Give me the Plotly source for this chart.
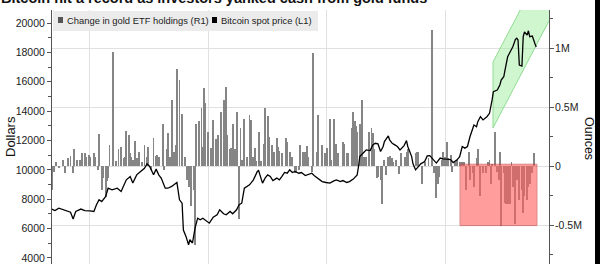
import plotly.graph_objects as go

# ---------------- data ----------------
btc_dates = [
    "2019-12-02", "2019-12-05", "2019-12-08", "2019-12-10", "2019-12-14", "2019-12-17", "2019-12-19",
    "2019-12-21", "2019-12-25", "2019-12-28", "2020-01-01", "2020-01-04", "2020-01-06", "2020-01-08",
    "2020-01-10", "2020-01-13", "2020-01-15", "2020-01-18", "2020-01-22", "2020-01-25", "2020-01-29",
    "2020-02-01", "2020-02-03", "2020-02-06", "2020-02-09", "2020-02-12", "2020-02-14", "2020-02-16",
    "2020-02-19", "2020-02-21", "2020-02-23", "2020-02-25", "2020-02-28", "2020-03-01", "2020-03-04",
    "2020-03-07", "2020-03-08", "2020-03-10", "2020-03-12", "2020-03-13", "2020-03-15", "2020-03-17",
    "2020-03-18", "2020-03-20", "2020-03-22", "2020-03-24", "2020-03-26", "2020-03-28", "2020-03-31",
    "2020-04-02", "2020-04-05", "2020-04-08", "2020-04-10", "2020-04-13", "2020-04-15", "2020-04-18",
    "2020-04-20", "2020-04-23", "2020-04-25", "2020-04-27", "2020-04-29", "2020-05-01", "2020-05-03",
    "2020-05-06", "2020-05-09", "2020-05-10", "2020-05-12", "2020-05-13", "2020-05-15", "2020-05-17",
    "2020-05-19", "2020-05-21", "2020-05-24", "2020-05-26", "2020-05-28", "2020-05-30", "2020-06-01",
    "2020-06-03", "2020-06-05", "2020-06-07", "2020-06-10", "2020-06-12", "2020-06-15", "2020-06-17",
    "2020-06-20", "2020-06-22", "2020-06-25", "2020-06-28", "2020-07-01", "2020-07-04", "2020-07-07",
    "2020-07-09", "2020-07-12", "2020-07-14", "2020-07-17", "2020-07-19", "2020-07-22", "2020-07-25",
    "2020-07-26", "2020-07-27", "2020-07-30", "2020-08-01", "2020-08-04", "2020-08-06", "2020-08-08",
    "2020-08-10", "2020-08-12", "2020-08-14", "2020-08-15", "2020-08-18", "2020-08-19", "2020-08-21",
    "2020-08-23", "2020-08-25", "2020-08-27", "2020-08-29", "2020-08-30", "2020-09-01", "2020-09-02",
    "2020-09-05", "2020-09-06", "2020-09-08", "2020-09-10", "2020-09-12", "2020-09-15", "2020-09-17",
    "2020-09-19", "2020-09-22", "2020-09-24", "2020-09-27", "2020-09-29", "2020-10-02", "2020-10-05",
    "2020-10-07", "2020-10-10", "2020-10-12", "2020-10-14", "2020-10-16", "2020-10-18", "2020-10-20",
    "2020-10-23", "2020-10-25", "2020-10-26", "2020-10-28", "2020-10-30", "2020-11-02", "2020-11-04",
    "2020-11-06", "2020-11-07", "2020-11-10", "2020-11-12", "2020-11-13", "2020-11-15", "2020-11-16",
    "2020-11-18", "2020-11-20", "2020-11-22", "2020-11-24", "2020-11-25", "2020-11-26", "2020-11-27",
    "2020-11-29", "2020-11-30", "2020-12-01", "2020-12-03", "2020-12-04", "2020-12-05", "2020-12-07",
    "2020-12-08", "2020-12-09", "2020-12-10",
]
btc_price = [
    7350, 7230, 7390, 7330, 7170, 7120, 6650,
    7170, 7330, 7230, 7210, 7170, 7620, 7960,
    7840, 8180, 8750, 8640, 8750, 8530, 9320,
    9550, 9100, 9660, 9890, 10110, 10410, 10230,
    9660, 10050, 9660, 9430, 8750, 8750, 8870,
    9100, 9140, 7960, 7730, 5900, 5470, 4900,
    5240, 5020, 6030, 6710, 6600, 6710, 6480,
    6370, 6780, 6940, 7280, 7010, 6940, 7170,
    7010, 7280, 7620, 7730, 8750, 8860, 8980,
    9320, 9890, 9950, 9320, 9100, 9440, 9660,
    9550, 9270, 9440, 9320, 9550, 9820, 9770,
    10000, 9820, 9890, 9770, 9820, 9610, 9660,
    9770, 9600, 9380, 9200, 9140, 9100, 9250,
    9320, 9200, 9270, 9140, 9200, 9370, 9660,
    10230, 10900, 11180, 11360, 11310, 11700, 11810,
    11770, 11250, 11590, 11930, 12310, 12040, 11810,
    11700, 11590, 11360, 11540, 11630, 11990, 11590,
    10900, 10410, 10000, 10230, 10410, 10560, 10950,
    10970, 10680, 10460, 10800, 10750, 10730, 10700,
    10500, 10680, 10900, 11590, 11480, 11590, 12270,
    13060, 12940, 13280, 13620, 13400, 13620, 13850,
    14760, 15320, 15440, 15780, 16120, 16340, 16800,
    17700, 18040, 18380, 18890, 18960, 18840, 17140,
    17070, 19070, 19400, 19180, 19470, 19070, 19110,
    18790, 18600, 18370,
]

etf_dates = [
    "2019-12-03", "2019-12-04", "2019-12-06", "2019-12-08", "2019-12-11", "2019-12-13", "2019-12-15",
    "2019-12-17", "2019-12-19", "2019-12-20", "2019-12-22", "2019-12-24", "2019-12-26", "2019-12-28",
    "2019-12-29", "2019-12-31", "2020-01-01", "2020-01-04", "2020-01-05", "2020-01-07", "2020-01-08",
    "2020-01-10", "2020-01-11", "2020-01-13", "2020-01-14", "2020-01-15", "2020-01-16", "2020-01-19",
    "2020-01-21", "2020-01-23", "2020-01-25", "2020-01-27", "2020-01-28", "2020-01-29", "2020-01-31",
    "2020-02-01", "2020-02-02", "2020-02-03", "2020-02-05", "2020-02-06", "2020-02-08", "2020-02-10",
    "2020-02-12", "2020-02-14", "2020-02-15", "2020-02-17", "2020-02-19", "2020-02-21", "2020-02-22",
    "2020-02-23", "2020-02-26", "2020-02-27", "2020-02-29", "2020-03-01", "2020-03-03", "2020-03-04",
    "2020-03-06", "2020-03-07", "2020-03-08", "2020-03-10", "2020-03-12", "2020-03-14", "2020-03-16",
    "2020-03-17", "2020-03-18", "2020-03-19", "2020-03-21", "2020-03-22", "2020-03-23", "2020-03-25",
    "2020-03-27", "2020-03-28", "2020-03-29", "2020-03-30", "2020-04-01", "2020-04-03", "2020-04-05",
    "2020-04-07", "2020-04-08", "2020-04-09", "2020-04-11", "2020-04-13", "2020-04-15", "2020-04-16",
    "2020-04-18", "2020-04-19", "2020-04-20", "2020-04-22", "2020-04-23", "2020-04-25", "2020-04-26",
    "2020-04-27", "2020-04-29", "2020-05-01", "2020-05-03", "2020-05-04", "2020-05-06", "2020-05-07",
    "2020-05-08", "2020-05-10", "2020-05-12", "2020-05-14", "2020-05-15", "2020-05-17", "2020-05-18",
    "2020-05-20", "2020-05-22", "2020-05-24", "2020-05-25", "2020-05-26", "2020-05-28", "2020-05-31",
    "2020-06-01", "2020-06-03", "2020-06-05", "2020-06-07", "2020-06-08", "2020-06-10", "2020-06-11",
    "2020-06-13", "2020-06-15", "2020-06-16", "2020-06-17", "2020-06-20", "2020-06-21", "2020-06-24",
    "2020-06-25", "2020-06-28", "2020-06-30", "2020-07-02", "2020-07-04", "2020-07-05", "2020-07-07",
    "2020-07-09", "2020-07-10", "2020-07-14", "2020-07-15", "2020-07-17", "2020-07-18", "2020-07-21",
    "2020-07-22", "2020-07-23", "2020-07-24", "2020-07-25", "2020-07-27", "2020-07-29", "2020-07-30",
    "2020-08-01", "2020-08-03", "2020-08-05", "2020-08-06", "2020-08-07", "2020-08-09", "2020-08-10",
    "2020-08-12", "2020-08-13", "2020-08-15", "2020-08-16", "2020-08-18", "2020-08-19", "2020-08-21",
    "2020-08-22", "2020-08-24", "2020-08-26", "2020-08-28", "2020-08-31", "2020-09-01", "2020-09-02",
    "2020-09-08", "2020-09-09", "2020-09-10", "2020-09-13", "2020-09-15", "2020-09-18", "2020-09-21",
    "2020-09-22", "2020-09-24", "2020-09-25", "2020-09-26", "2020-09-28", "2020-09-29", "2020-10-01",
    "2020-10-02", "2020-10-03", "2020-10-05", "2020-10-06", "2020-10-08", "2020-10-09", "2020-10-10",
    "2020-10-12", "2020-10-14", "2020-10-15", "2020-10-17", "2020-10-19", "2020-10-20", "2020-10-22",
    "2020-10-23", "2020-10-25", "2020-10-26", "2020-10-28", "2020-10-30", "2020-11-01", "2020-11-03",
    "2020-11-04", "2020-11-05", "2020-11-06", "2020-11-08", "2020-11-10", "2020-11-11", "2020-11-12",
    "2020-11-13", "2020-11-15", "2020-11-16", "2020-11-17", "2020-11-18", "2020-11-20", "2020-11-21",
    "2020-11-22", "2020-11-24", "2020-11-25", "2020-11-26", "2020-11-27", "2020-11-29", "2020-11-30",
    "2020-12-01", "2020-12-03", "2020-12-04", "2020-12-05", "2020-12-07", "2020-12-08",
]
etf_change = [
    -200000, -50000, 36000, -20000, 50000, -60000, 65000,
    88000, -60000, 140000, 50000, 50000, 110000, 110000,
    80000, 90000, 80000, 110000, 80000, -30000, 270000,
    -200000, -100000, -260000, -130000, -100000, 180000, 970000,
    40000, 140000, 160000, 65000, 80000, 300000, 260000,
    110000, 80000, 55000, 210000, 65000, 120000, 36000,
    180000, 80000, 160000, -30000, 240000, 88000, 93000,
    80000, 360000, -30000, 140000, 280000, 80000, 560000,
    120000, 180000, 820000, 730000, 440000, 80000, -120000,
    -180000, -150000, -340000, -200000, -670000, 360000, 380000,
    490000, 160000, 660000, 530000, 290000, 150000, 390000,
    230000, 230000, 260000, 460000, 560000, 670000, 260000,
    140000, 150000, 360000, 140000, 460000, -450000, 320000,
    50000, 400000, 80000, 430000, 390000, 80000, 150000,
    40000, 290000, 40000, 190000, 490000, 420000, 250000,
    180000, 120000, 240000, 160000, 130000, 110000, 240000,
    200000, 120000, 80000, -60000, -50000, -35000, 180000,
    120000, 120000, 170000, 80000, -50000, 960000, 120000,
    430000, 180000, 110000, 150000, 400000, 50000, 400000,
    190000, 110000, 200000, 190000, 110000, 110000, 320000,
    460000, 380000, 340000, 290000, 360000, 560000, 80000,
    80000, 290000, 320000, 280000, 140000, -100000, -90000,
    -120000, -320000, 50000, -80000, 80000, 85000, 65000,
    36000, 50000, -65000, 110000, 80000, 120000, 140000,
    110000, 120000, 120000, -150000, 36000, 65000, 1150000,
    -60000, -270000, -150000, -90000, 50000, 120000, 80000,
    200000, 65000, 90000, -50000, 36000, 36000, 50000,
    36000, 30000, 30000, -200000, 120000, -120000, -60000,
    -180000, 65000, 140000, -250000, -60000, -57000, 36000,
    50000, -150000, 20000, 290000, -50000, -120000, 120000,
    -510000, -60000, -310000, -320000, -320000, -320000, 30000,
    -180000, -490000, -120000, -60000, -290000, -200000, -400000,
    -250000, -290000, -180000, -150000, -60000, 110000,
]

dollar_range = [3590, 20885]
ounce_range = [-830500, 1322000]
x_range = ["2019-12-02 17:00", "2020-12-19 21:00"]
ounce_tick_vals = [-500000, 0, 500000, 1000000]
ounce_tick_text = ["-0.5M", "0", "0.5M", "1M"]

# highlight regions (data units)
green_x = ["2020-11-06 17:00", "2020-11-06 17:00", "2020-12-28", "2020-12-28", "2020-11-06 17:00"]
green_y = [17347, 12857, 21518, 25987, 17347]
red_x = ["2020-10-12 07:00", "2020-12-10 14:00"]
red_y = [-505000, 15000]

title_text = "Bitcoin hit a record as investors yanked cash from gold funds"
legend_labels = ["Change in gold ETF holdings (R1)", "Bitcoin spot price (L1)"]

# ---------------- layout helpers ----------------
W, H = 600, 264
ML, MR, MT, MB = 52, 51, 10, 0
PW, PH = W - ML - MR, H - MT - MB


def px(x):
    return (x - ML) / PW


def py(y):
    return (H - MB - y) / PH


FONT = "Liberation Sans, Arial, sans-serif"
DAY_MS = 86400000

fig = go.Figure()
fig.add_trace(go.Bar(
    x=etf_dates, y=etf_change, yaxis="y",
    marker=dict(color="#858585", line=dict(width=0)),
    width=0.7 * DAY_MS, showlegend=False, hoverinfo="skip",
))
fig.add_trace(go.Scatter(
    x=green_x, y=green_y, yaxis="y2", mode="lines", fill="toself",
    fillcolor="rgba(150,235,150,0.45)", line=dict(color="#8fdc8f", width=1),
    showlegend=False, hoverinfo="skip",
))
fig.add_trace(go.Scatter(
    x=btc_dates, y=btc_price, yaxis="y2", mode="lines",
    line=dict(color="black", width=1.3), showlegend=False,
))

shapes = [
    dict(type="rect", xref="x", yref="y", x0=red_x[0], x1=red_x[1], y0=red_y[0], y1=red_y[1],
         fillcolor="#ff6060", opacity=0.62, line=dict(color="#c83c3c", width=1), layer="above"),
    # legend background
    dict(type="rect", xref="paper", yref="paper", x0=px(53), x1=px(318), y0=py(31), y1=py(11),
         fillcolor="#ebebeb", line=dict(width=0), layer="above"),
    dict(type="rect", xref="paper", yref="paper", x0=px(58), x1=px(63), y0=py(23), y1=py(17),
         fillcolor="#555555", line=dict(width=0), layer="above"),
    dict(type="rect", xref="paper", yref="paper", x0=px(212), x1=px(217), y0=py(23), y1=py(17),
         fillcolor="#000000", line=dict(width=0), layer="above"),
    # black strip at right edge
    dict(type="rect", xref="paper", yref="paper", x0=px(595), x1=px(602), y0=py(266), y1=py(-2),
         fillcolor="#000000", line=dict(width=0), layer="above"),
]

annotations = [
    dict(text="<b>" + title_text + "</b>", xref="paper", yref="paper", x=px(-1), y=py(8.5),
         xanchor="left", yanchor="bottom", showarrow=False,
         font=dict(family=FONT, size=14.5, color="#111")),
    dict(text=legend_labels[0], xref="paper", yref="paper", x=px(64.5), y=py(20),
         xanchor="left", yanchor="middle", showarrow=False,
         font=dict(family=FONT, size=9.4, color="#222")),
    dict(text=legend_labels[1], xref="paper", yref="paper", x=px(218.5), y=py(20),
         xanchor="left", yanchor="middle", showarrow=False,
         font=dict(family=FONT, size=9.4, color="#222")),
    dict(text="Dollars", xref="paper", yref="paper", x=px(10), y=py(137), textangle=-90,
         xanchor="center", yanchor="middle", showarrow=False,
         font=dict(family=FONT, size=13, color="#111")),
    dict(text="Ounces", xref="paper", yref="paper", x=px(589), y=py(138), textangle=90,
         xanchor="center", yanchor="middle", showarrow=False,
         font=dict(family=FONT, size=12.5, color="#111")),
]

fig.update_layout(
    width=W, height=H,
    margin=dict(l=ML, r=MR, t=MT, b=MB, pad=0),
    paper_bgcolor="white", plot_bgcolor="white",
    showlegend=False, bargap=0,
    font=dict(family=FONT, size=10.5, color="#222"),
    shapes=shapes, annotations=annotations,
    xaxis=dict(
        type="date", range=x_range, tickmode="linear", tick0="2020-01-01", dtick="M3",
        showticklabels=False, ticks="", showgrid=True, gridcolor="#e0e0e0", gridwidth=1,
        zeroline=False, showline=False,
    ),
    yaxis=dict(
        side="right", range=ounce_range, tickmode="array", tickvals=ounce_tick_vals,
        ticktext=ounce_tick_text, ticks="outside", ticklen=4, tickcolor="#555",
        showline=True, linecolor="#555", linewidth=1,
        showgrid=True, gridcolor="#e0e0e0", gridwidth=1, zeroline=False,
        ticklabelstandoff=-1,
        tickfont=dict(family=FONT, size=10.5, color="#222"),
        minor=dict(tickmode="linear", tick0=0, dtick=250000, ticks="outside", ticklen=3,
                   tickcolor="#555", showgrid=False),
    ),
    yaxis2=dict(
        side="left", overlaying="y", range=dollar_range, tickmode="linear", tick0=0, dtick=2000,
        tickformat="d", ticks="outside", ticklen=4, tickcolor="#555",
        showline=True, linecolor="#555", linewidth=1, showgrid=False, zeroline=False,
        tickfont=dict(family=FONT, size=10.5, color="#222"),
        minor=dict(tickmode="linear", tick0=0, dtick=1000, ticks="outside", ticklen=3,
                   tickcolor="#555", showgrid=False),
    ),
)

fig.write_html("out.html")
